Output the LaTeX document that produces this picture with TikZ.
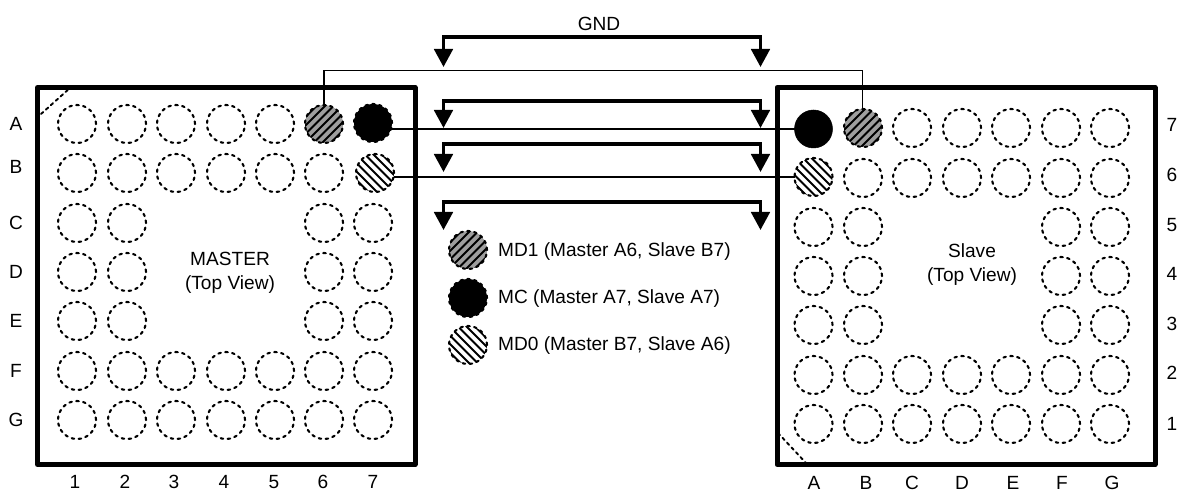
\documentclass[tikz,border=0pt]{standalone}
\usepackage{fontspec}
\setmainfont{Liberation Sans}
\usetikzlibrary{arrows.meta}
\definecolor{hatchgray}{gray}{0.62}
\newcommand{\hatchlines}[1]{%
  \foreach \o in {-42.5,-34,...,42.5}{%
    \draw[line width=2.1bp,black,solid,line cap=butt] ([shift={(\o bp,0)}]path picture bounding box.center)
      ++(#1*-30bp,-30bp) -- ++(#1*60bp,60bp);
  }}
\tikzset{
  x=1bp,y=-1bp,
  pad/.style={circle,minimum size=38bp,inner sep=0pt,outer sep=0pt,draw=black,line width=2.1bp,dash pattern=on 2.6bp off 4.4bp,line cap=round},
  padblack/.style={pad,fill=black},
  padsolid/.style={circle,minimum size=38bp,inner sep=0pt,outer sep=0pt,draw=black,fill=black,line width=0.5bp},
  padup/.style={pad,fill=hatchgray,path picture={\hatchlines{1}}},
  paddown/.style={pad,fill=white,path picture={\hatchlines{-1}}},
  chip/.style={draw=black,line width=5bp,line join=round,inner sep=0pt,outer sep=0pt},
  wire/.style={draw=black,line width=1.3bp},
  key/.style={draw=black,dash pattern=on 3bp off 3.6bp,line width=1.9bp,line cap=round},
  bus/.style={draw=black,line width=3.4bp,{Triangle[length=18bp,width=18.5bp]}-{Triangle[length=18bp,width=18.5bp]}},
  lab/.style={inner sep=0pt,text=black,font=\fontsize{19.1bp}{24bp}\selectfont,align=center},
  legend/.style={lab,anchor=west}
}
\begin{document}
\begin{tikzpicture}
\useasboundingbox (0,0) rectangle (1184,492);
\fill[white] (0,0) rectangle (1184,492);
% chips
\node[chip,minimum width=377.5bp,minimum height=377bp,anchor=north west] (master) at (37.5,87.5) {};
\node[chip,minimum width=378bp,minimum height=377bp,anchor=north west] (slave) at (777,87.5) {};
\coordinate (mkA) at (41,114); \coordinate (mkB) at (70,88);
\coordinate (skA) at (778,433); \coordinate (skB) at (806,463);
\draw[key] (mkA) -- (mkB);
\draw[key] (skA) -- (skB);
% master pads
\foreach \r/\y in {1/124,2/173,3/223,4/272,5/321,6/371,7/420}{
  \foreach \c/\x in {1/77,2/127,3/176,4/226,5/275,6/324,7/373}{
    \pgfmathtruncatemacro{\mid}{(\r>2)&&(\r<6)&&(\c>2)&&(\c<6)?1:0}
    \pgfmathtruncatemacro{\spec}{((\r==1)&&(\c>5))||((\r==2)&&(\c==7))?1:0}
    \ifnum\mid=0\ifnum\spec=0
      \node[pad] (m-\r-\c) at (\x,\y) {};
    \fi\fi
  }
}
\node[padup] (m-1-6) at (324,124) {};
\node[padblack] (m-1-7) at (373,123) {};
\node[paddown] (m-2-7) at (375,173) {};
% slave pads
\foreach \r/\y in {1/128,2/178,3/227,4/276,5/325,6/375,7/424}{
  \foreach \c/\x in {1/813.5,2/863,3/912,4/962,5/1011,6/1061,7/1110}{
    \pgfmathtruncatemacro{\mid}{(\r>2)&&(\r<6)&&(\c>2)&&(\c<6)?1:0}
    \pgfmathtruncatemacro{\spec}{((\r==1)&&(\c<3))||((\r==2)&&(\c==1))?1:0}
    \ifnum\mid=0\ifnum\spec=0
      \node[pad] (s-\r-\c) at (\x,\y) {};
    \fi\fi
  }
}
\node[padsolid] (s-1-1) at (813.5,129) {};
\node[padup] (s-1-2) at (863,128) {};
\node[paddown] (s-2-1) at (813.5,177) {};
% wires
\coordinate (topL) at (324,70.5);
\coordinate (topR) at (862.5,70.5);
\draw[wire] (m-1-6.north) -- (topL) -- (topR) -- (topR |- s-1-2.north);
\draw[wire] (m-1-7.east |- s-1-1.west) -- (s-1-1.west);
\draw[wire] (m-2-7.east |- s-2-1.west) -- (s-2-1.west);
% buses
\foreach \n/\ybar/\ytip in {a/37/67,b/101/128,c/144/172,d/202/230}{
  \coordinate (bus\n L) at (443.5,\ytip);
  \coordinate (bus\n BL) at (443.5,\ybar);
  \coordinate (bus\n BR) at (760.5,\ybar);
  \coordinate (bus\n R) at (760.5,\ytip);
  \draw[bus,line join=miter] (bus\n L) -- (bus\n BL) -- (bus\n BR) -- (bus\n R);
}
\node[lab] (gnd) at (599,24) {GND};
% legend
\node[padup] (k1) at (468,250) {};
\node[padblack] (k2) at (468,298) {};
\node[paddown] (k3) at (468,345) {};
\node[legend] (t1) at (498,252) {MD1 (Master A6, Slave B7)};
\node[legend] (t2) at (498,299) {MC (Master A7, Slave A7)};
\node[legend] (t3) at (498,346) {MD0 (Master B7, Slave A6)};
% chip titles
\node[lab] (mt) at (230,273) {MASTER\\(Top View)};
\node[lab] (st) at (972,265) {Slave\\(Top View)};
% labels
\foreach \t/\y in {A/124,B/167,C/223,D/272,E/321,F/371,G/420}{
  \node[lab] (l\t) at (16,\y) {\t};
}
\foreach \t/\x in {1/75,2/125,3/174,4/224,5/274,6/323,7/373}{
  \node[lab] (b\t) at (\x,482) {\t};
}
\foreach \t/\x in {A/814,B/866,C/912,D/962,E/1013,F/1062,G/1112}{
  \node[lab] (c\t) at (\x,482.5) {\t};
}
\foreach \t/\y in {7/125,6/175,5/225,4/274,3/324,2/373,1/424}{
  \node[lab] (r\t) at (1172,\y) {\t};
}
\end{tikzpicture}
\end{document}
